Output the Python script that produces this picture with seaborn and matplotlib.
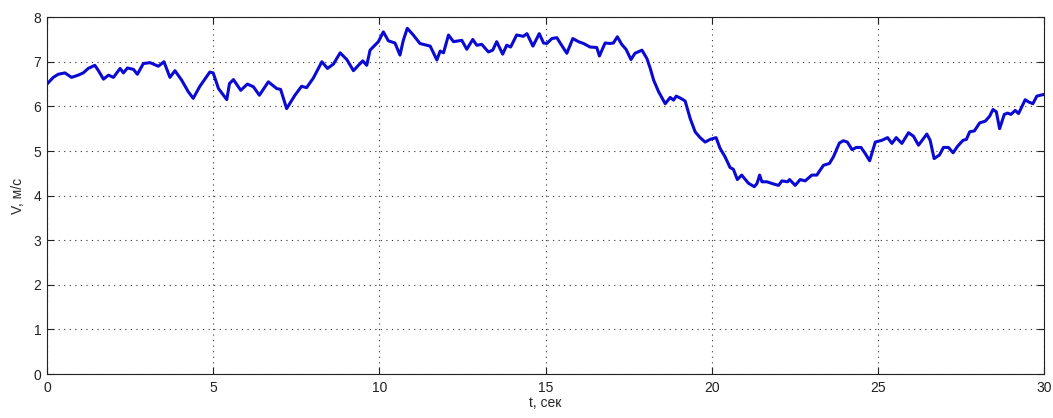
import matplotlib
matplotlib.use("Agg")
import matplotlib.pyplot as plt
import seaborn as sns
import pandas as pd

# Wind speed record: time (s) and speed (m/s)
t_sec = [0.00, 0.19, 0.34, 0.54, 0.74, 0.94, 1.09, 1.24, 1.44, 1.54, 1.70, 1.85, 2.00, 2.20, 2.30,
         2.42, 2.60, 2.72, 2.90, 3.10, 3.35, 3.52, 3.70, 3.85, 4.05, 4.25, 4.40, 4.60, 4.90, 5.00,
         5.16, 5.41, 5.49, 5.61, 5.83, 6.03, 6.21, 6.39, 6.66, 6.91, 7.03, 7.21, 7.46, 7.66, 7.81,
         8.01, 8.27, 8.44, 8.62, 8.82, 9.02, 9.22, 9.37, 9.50, 9.62, 9.72, 9.97, 10.12, 10.27, 10.47,
         10.62, 10.72, 10.84, 11.02, 11.22, 11.53, 11.73, 11.83, 11.93, 12.08, 12.23, 12.48, 12.63,
         12.81, 12.93, 13.08, 13.28, 13.41, 13.53, 13.71, 13.83, 13.95, 14.13, 14.33, 14.44, 14.62,
         14.81, 14.94, 15.04, 15.19, 15.34, 15.44, 15.64, 15.82, 15.99, 16.14, 16.34, 16.54, 16.62,
         16.79, 16.94, 17.04, 17.16, 17.29, 17.42, 17.57, 17.69, 17.90, 18.05, 18.15, 18.25, 18.40,
         18.60, 18.75, 18.85, 18.93, 19.07, 19.20, 19.35, 19.50, 19.65, 19.80, 19.95, 20.13,
         20.25, 20.40, 20.55, 20.65, 20.77, 20.90, 21.10, 21.28, 21.36, 21.44, 21.51, 21.66, 21.86,
         22.01, 22.11, 22.28, 22.34, 22.51, 22.66, 22.81, 23.01, 23.16, 23.36, 23.54, 23.66, 23.84,
         23.96, 24.08, 24.22, 24.35, 24.49, 24.62, 24.75, 24.92, 25.12, 25.29, 25.42, 25.55, 25.72,
         25.92, 26.07, 26.22, 26.47, 26.57, 26.69, 26.85, 26.97, 27.12, 27.26, 27.40, 27.56, 27.66,
         27.76, 27.90, 28.06, 28.23, 28.36, 28.46, 28.56, 28.66, 28.80, 28.90, 29.00, 29.13, 29.23,
         29.43, 29.53, 29.66, 29.78, 30.00]
v_ms = [6.50, 6.65, 6.72, 6.75, 6.65, 6.70, 6.75, 6.85, 6.92, 6.81, 6.61, 6.70, 6.65, 6.85, 6.75,
        6.86, 6.83, 6.72, 6.96, 6.98, 6.90, 7.00, 6.65, 6.80, 6.59, 6.33, 6.18, 6.45, 6.77, 6.75,
        6.40, 6.15, 6.51, 6.60, 6.36, 6.50, 6.44, 6.25, 6.55, 6.40, 6.38, 5.95, 6.25, 6.45, 6.42,
        6.63, 7.00, 6.85, 6.95, 7.20, 7.05, 6.80, 6.92, 7.02, 6.92, 7.26, 7.45, 7.67, 7.47, 7.42,
        7.15, 7.48, 7.75, 7.60, 7.41, 7.35, 7.04, 7.24, 7.20, 7.60, 7.45, 7.48, 7.28,
        7.50, 7.37, 7.39, 7.22, 7.26, 7.45, 7.17, 7.37, 7.33, 7.60, 7.57, 7.63, 7.35,
        7.63, 7.42, 7.41, 7.52, 7.54, 7.42, 7.19, 7.52, 7.45, 7.41, 7.33, 7.32, 7.13,
        7.42, 7.41, 7.42, 7.56, 7.39, 7.28, 7.05, 7.19, 7.26, 7.07, 6.85, 6.59, 6.33,
        6.06, 6.20, 6.14, 6.23, 6.18, 6.12, 5.73, 5.43, 5.30, 5.20, 5.26, 5.30,
        5.06, 4.87, 4.63, 4.59, 4.36, 4.46, 4.28, 4.20, 4.27, 4.46, 4.31, 4.31, 4.26,
        4.23, 4.33, 4.31, 4.36, 4.23, 4.36, 4.33, 4.46, 4.46, 4.68, 4.72, 4.87, 5.18,
        5.23, 5.20, 5.03, 5.08, 5.08, 4.94, 4.78, 5.20, 5.24, 5.30, 5.17, 5.30, 5.17,
        5.41, 5.33, 5.13, 5.38, 5.24, 4.83, 4.91, 5.08, 5.08, 4.96, 5.11, 5.24, 5.26,
        5.43, 5.45, 5.63, 5.67, 5.78, 5.93, 5.88, 5.50, 5.82, 5.85, 5.82, 5.91, 5.84,
        6.15, 6.10, 6.06, 6.23, 6.27]

x_ticks = [0, 5, 10, 15, 20, 25, 30]
y_ticks = [0, 1, 2, 3, 4, 5, 6, 7, 8]

df = pd.DataFrame({"t": t_sec, "v": v_ms})

sns.set_style("white")
plt.rcParams["font.family"] = ["Liberation Sans Narrow", "Liberation Sans", "DejaVu Sans"]

fig = plt.figure(figsize=(10.53, 4.18), dpi=100)
ax = fig.add_axes([0.0446, 0.105, 0.947, 0.854])

sns.lineplot(data=df, x="t", y="v", ax=ax, color="#0a0ad2", linewidth=2.2, sort=False)

ax.set_xlim(0, 30)
ax.set_ylim(0, 8)
ax.set_xticks(x_ticks)
ax.set_yticks(y_ticks)
ax.set_xticklabels([str(v) for v in x_ticks], fontsize=10)
ax.set_yticklabels([str(v) for v in y_ticks], fontsize=10)
ax.tick_params(direction="in", length=5, width=0.8, top=True, right=True,
               bottom=True, left=True, colors="#222222", labelcolor="#222222")
ax.tick_params(axis="x", pad=5)
ax.tick_params(axis="y", pad=4)
ax.grid(True, linestyle=(0, (1, 4)), color="#333333", linewidth=0.8)
for s in ax.spines.values():
    s.set_visible(True)
    s.set_color("#222222")
    s.set_linewidth(0.8)

ax.set_xlabel("t, сек", fontsize=10, labelpad=1)
ax.set_ylabel("V, м/с", fontsize=10, labelpad=6)

fig.savefig("out.png", dpi=100, facecolor="white")
